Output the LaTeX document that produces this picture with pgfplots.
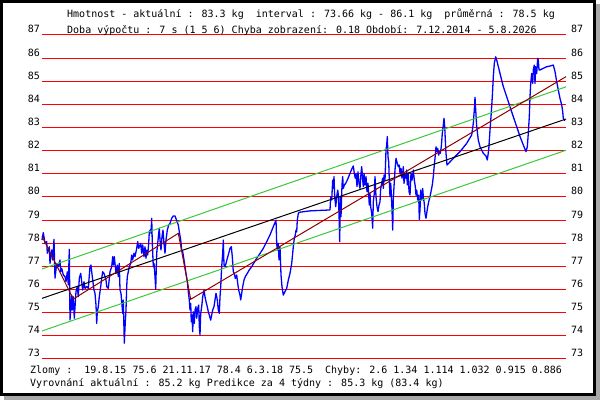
\documentclass[border=0pt]{standalone}
\usepackage{fontspec}
\setmainfont{DejaVu Sans Mono}
\usepackage{pgfplots}
\pgfplotsset{compat=1.18}
\newcommand\pf{\fontsize{10bp}{12bp}\selectfont}
\definecolor{shadowgray}{RGB}{168,168,168}
\definecolor{trendgreen}{RGB}{60,200,60}
\definecolor{brownred}{RGB}{140,0,0}
\begin{document}
\begin{tikzpicture}
\useasboundingbox (0,0) rectangle (600bp,400bp);
\fill[shadowgray] (4bp,0) rectangle (600bp,396bp);
\fill[black] (0,4bp) rectangle (596bp,400bp);
\fill[white] (3bp,7bp) rectangle (593bp,397bp);
\begin{axis}[at={(42bp,41bp)}, anchor=south west,
  width=524bp, height=324bp, scale only axis,
  xmin=42, xmax=566, ymin=73, ymax=87,
  hide axis, clip=false]
\pgfplotsinvokeforeach{73,...,87}{
  \draw[red, line width=1bp] (axis cs:42,#1) -- (axis cs:566,#1);
  \node[font=\pf, anchor=base east, inner sep=0pt, xshift=-2bp, yshift=2bp] at (axis cs:42,#1) {#1};
  \node[font=\pf, anchor=base west, inner sep=0pt, xshift=5bp, yshift=2bp] at (axis cs:566,#1) {#1};
}
% weight series
\addplot[blue, line width=1.3bp, line join=round] coordinates {
(42,78.14) (43.3,78.46) (45,78.00) (46.7,78.07) (47.3,77.57) (49.3,77.85) (50,77.13) (51.7,77.71) (52.7,77.28) (54,78.17) (55,76.49) (56.7,77.13) (58.3,76.99) (60,77.28) (60.7,76.77) (61.7,76.92) (63.3,76.63) (65,76.56) (66,76.34) (67.3,76.77) (68.3,76.20) (69.3,77.74) (70,74.69) (71.7,75.76) (72.3,75.12) (73.3,75.69) (74.3,74.76) (76,75.91) (77.3,76.13) (78.3,75.69) (79.3,76.49) (80.7,76.70) (81.7,76.34) (82.7,75.98) (84,76.34) (85,76.05) (86.7,76.13) (88.3,76.05) (90,76.99) (91,77.06) (91.7,76.77) (93.3,76.20) (94,75.98) (95,75.84) (96,75.33) (96.7,74.54) (97.3,75.04) (98.3,75.26) (99.3,75.69) (100.7,76.13) (101.7,76.49) (102.7,76.77) (104,76.70) (106,76.41) (106.7,76.13) (108.3,76.05) (110,76.77) (111.7,76.99) (112.7,77.42) (113.3,77.06) (114.3,77.42) (116,76.70) (117.3,77.06) (118.3,76.56) (119.3,77.13) (120,75.98) (121,75.84) (121.7,75.48) (122.7,74.97) (123.3,75.55) (124.3,73.68) (125.3,74.61) (126,75.12) (126.7,76.13) (127.3,76.56) (128.3,76.77) (129.3,76.99) (130.7,77.13) (131.7,77.49) (132.7,77.28) (134,77.57) (135,77.42) (136.7,77.78) (137.7,78.07) (138.7,77.78)
(140.7,78.00) (141.7,77.57) (142.7,77.93) (144,77.42) (145,77.85) (146,77.35) (146.7,77.71) (147.7,77.49) (148.7,78.00) (149.3,78.50) (150.7,78.60) (151,78.43) (151.7,79.08) (152.3,78.00) (153.3,76.99) (154,77.13) (155,76.56) (155.7,76.01) (156.7,77.57) (157.7,78.00) (158.7,78.43) (159.3,78.65) (160,78.14) (161,77.71) (162,78.29) (163,78.57) (164,78.00) (165,77.57) (166,78.14) (167.3,78.57) (168.7,78.79) (170,78.86) (171.7,79.08) (173.3,79.18) (175,79.18) (176.7,78.98) (178.3,78.79) (179.3,78.50) (180.7,78.14) (181.7,77.71) (182.7,77.64) (184,77.28) (185,76.99) (186,76.70) (187.3,76.34) (188.3,75.91) (189.3,75.55) (190,75.12) (190.7,75.40) (191.3,74.61) (192,74.90) (192.7,74.18) (193.3,75.04) (194.3,74.54) (195,75.12) (196,75.26) (196.7,74.76) (197.7,75.19) (198.7,75.33) (199.3,74.40) (200,74.04) (200.7,74.97) (201.7,75.26) (202.7,75.69) (204,75.98) (205,75.69) (206,75.48) (207.3,75.26) (208.3,75.04) (209.3,74.90) (210.7,74.68) (211.7,74.90) (212.7,75.12) (214,75.26) (215,75.55) (216,75.84) (217.3,75.55) (218.3,75.12) (219.3,74.97) (220,75.69) (220.7,76.12) (221.7,76.99) (222.7,77.57) (223.3,78.14)
(224,77.06) (225,76.99) (226,77.13) (227.3,77.35) (228.7,77.56) (230,77.78) (231.3,77.85) (232.3,77.42) (233.3,76.77) (234.3,76.70) (235.3,76.48) (236.7,76.63) (237.7,76.27) (238.7,75.98) (240,75.76) (240.7,75.55) (241.7,75.84) (242.7,76.13) (244,76.41) (245.3,76.56) (247.3,76.70) (249.3,76.85) (251.7,76.99) (254,77.16) (256.7,77.35) (260,77.56) (263.3,77.78) (266.7,78.07) (270,78.36) (273.3,78.72) (276,79.00) (276.7,78.00) (277.3,77.71) (278.3,78.00) (279,77.28) (280,77.85) (281,76.63) (282,76.12) (283.3,75.76) (285,75.91) (286.7,76.05) (288.3,76.41) (290,76.70) (291.7,77.13) (293.3,77.85) (294.3,78.21) (295.3,78.36) (296,78.57) (296.7,78.50) (297.3,79.00) (298.3,79.29) (299.3,79.34) (310,79.40) (320,79.42) (330,79.44)
(330.7,80.01) (331.7,79.87) (332.7,80.73) (333.3,80.37) (334,80.88) (334.7,80.01) (335.7,79.58) (336.7,80.01) (337.7,80.30) (338.3,80.09) (339,79.30) (339.7,78.07) (340.3,80.01) (341,79.15) (342,80.52) (342.7,80.88) (343.3,80.37) (344.3,80.52) (345.7,80.59) (347.3,80.73) (348.7,80.88) (350,81.02) (351.7,81.20) (353.3,81.34) (354.3,81.02) (355.3,80.81) (356,81.02) (357,80.45) (358,81.09) (359,80.59) (360,80.37) (361,81.02) (361.7,81.31) (362.7,80.73) (363.3,80.45) (364,81.02) (365,80.52) (366,80.88) (367,80.23) (368,80.59) (369.3,79.65) (370,80.16) (370.7,79.58) (371.7,79.30) (372.7,78.65) (373.3,79.80) (374.3,80.16) (375,80.88) (376,80.01) (377,79.58) (378,79.37) (379,79.65) (380,79.80) (380.7,80.37) (381.7,80.59) (382.7,80.81) (383.3,80.37) (384,80.95) (385,80.73) (386,82.03) (386.7,82.25) (387.3,82.61) (388,81.74) (388.7,81.53) (389.3,80.73) (390,80.01) (390.7,80.59) (391.3,80.16) (392,79.44) (392.7,78.57) (393.3,79.87) (394,80.45) (395,81.17) (396,81.67) (397.3,81.45) (398.3,81.31) (399.3,81.38) (400,81.02) (401,81.24) (402,80.81) (402.7,81.02) (403.3,81.31) (404,80.59) (405,80.95) (406,80.81) (406.7,81.17) (407.3,80.52) (408.3,81.02) (409,80.23) (410,80.09)
(411,81.02) (412,80.73) (413.3,81.17) (414.3,80.73) (415.3,80.45) (416,80.08) (416.7,80.30) (417.7,79.87) (418.7,80.08) (419.3,79.03) (420,79.44) (420.7,80.30) (421.7,79.87) (422.7,80.37) (423.3,80.01) (424.3,79.72) (425,79.29) (426,79.08) (426.7,79.29) (427.7,79.58) (428.7,79.80) (430,80.01) (431.3,80.30) (432.3,80.52) (433.3,80.88) (434.3,81.38) (435.3,81.81) (436,82.17) (436.7,81.96) (437.7,82.10) (438.7,81.81) (439.3,81.96) (440.3,81.89) (441.3,82.17) (442.3,82.75) (443.3,83.11) (444,83.40) (444.7,83.04) (445.3,82.46) (446,81.89) (447,81.38)
(453.3,81.67) (460,81.96) (466.7,82.32) (471.7,82.68) (473.3,83.18) (474.3,83.76) (475,84.31) (475.7,83.76) (476.7,83.04) (478.3,82.46) (480,82.17) (483.3,81.89) (486,81.77) (487.3,81.60) (488.7,82.03) (490,82.89) (491,83.47) (492.3,84.33) (493.3,85.20) (494.3,85.78) (495.7,86.06) (496.7,85.92) (500,85.34) (503.3,84.77) (506.7,84.33) (510,83.90) (513.3,83.47) (516.7,83.04) (520,82.61) (523.3,82.25) (526,81.96) (527.3,82.17) (528.3,82.75) (529.3,83.47) (530,84.33) (530.7,84.91) (531.7,85.34) (532.7,84.91) (533.3,85.49) (534.3,85.70) (535,84.91) (535.7,85.63) (536.7,85.34) (537.7,85.99) (538.3,85.92) (539,85.49) (540,85.49) (543.3,85.56) (546.7,85.63) (550,85.66) (553.3,85.70) (555,85.42) (556.7,84.98) (558.3,84.62) (560,84.26) (561.7,83.98) (562.7,83.69) (563.3,83.40) (564.3,83.33) (565,83.30)
};
% band
\addplot[trendgreen, line width=1bp] coordinates {(42,76.89) (566,84.76)};
\addplot[trendgreen, line width=1bp] coordinates {(42,74.21) (566,82.02)};
% linear trend
\addplot[black, line width=1bp] coordinates {(42,75.62) (566,83.37)};
% piecewise trend
\addplot[brownred, line width=1bp] coordinates {(42,78.31) (73.3,75.59) (178.3,78.43) (190.7,75.58) (566,85.20)};
\end{axis}
\node[font=\pf, anchor=base west, inner sep=0pt] at (67bp,382.7bp) {Hmotnost - aktuální : 83.3 kg\ \ interval : 73.66 kg - 86.1 kg\ \ průměrná : 78.5 kg};
\node[font=\pf, anchor=base west, inner sep=0pt] at (67bp,366.7bp) {Doba výpočtu : 7 s (1 5 6) Chyba zobrazení: 0.18 Období: 7.12.2014 - 5.8.2026};
\node[font=\pf, anchor=base west, inner sep=0pt] at (30bp,26.7bp) {Zlomy :\ \ 19.8.15 75.6 21.11.17 78.4 6.3.18 75.5\ \ Chyby: 2.6 1.34 1.114 1.032 0.915 0.886};
\node[font=\pf, anchor=base west, inner sep=0pt] at (30bp,14bp) {Vyrovnání aktuální : 85.2 kg Predikce za 4 týdny : 85.3 kg (83.4 kg)};
\end{tikzpicture}
\end{document}
